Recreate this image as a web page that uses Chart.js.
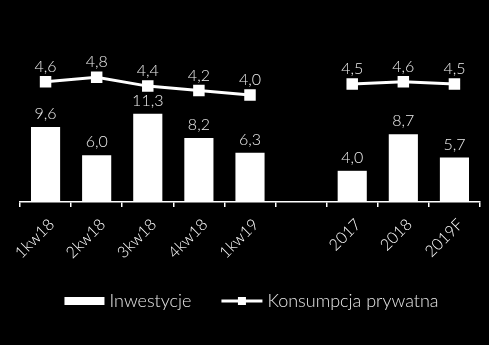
<!DOCTYPE html>
<html>
<head>
<meta charset="utf-8">
<script src="https://cdn.jsdelivr.net/npm/chart.js@4"></script>
<style>
  html, body { margin: 0; padding: 0; background: #000; }
  #wrap { width: 489px; height: 345px; }
</style>
</head>
<body>
<div id="wrap"><canvas id="chart"></canvas></div>
<script>
const categories = ["1kw18", "2kw18", "3kw18", "4kw18", "1kw19", "", "2017", "2018", "2019F"];
const inwestycje = [9.6, 6.0, 11.3, 8.2, 6.3, null, 4.0, 8.7, 5.7];
const konsumpcja = [4.6, 4.8, 4.4, 4.2, 4.0, null, 4.5, 4.6, 4.5];

const FONT = "Lato, 'DejaVu Sans', sans-serif";

function fmt(v) {
  return v.toFixed(1).replace(".", ",");
}

// value labels above bars and points
const valueLabels = {
  id: "valueLabels",
  afterDatasetsDraw(chart) {
    const ctx = chart.ctx;
    ctx.save();
    ctx.font = "300 16px " + FONT;
    ctx.fillStyle = "#ececec";
    ctx.textAlign = "center";
    ctx.textBaseline = "bottom";
    chart.data.datasets.forEach((ds, i) => {
      const meta = chart.getDatasetMeta(i);
      meta.data.forEach((el, j) => {
        const v = ds.data[j];
        if (v == null) return;
        const off = ds.type === "line" ? 7 : 5;
        ctx.fillText(fmt(v), el.x, el.y - off);
      });
    });
    ctx.restore();
  }
};

// legend at the bottom: box for bars, line with square for the line
const bottomLegend = {
  id: "bottomLegend",
  afterDraw(chart) {
    const ctx = chart.ctx;
    ctx.save();
    ctx.font = "300 18px " + FONT;
    const t1 = chart.data.datasets[0].label;
    const t2 = chart.data.datasets[1].label;
    const w1 = ctx.measureText(t1).width;
    const w2 = ctx.measureText(t2).width;
    const total = 40 + 5 + w1 + 30 + 41 + 5 + w2;
    let x = 251.5 - total / 2;
    const y = 301;
    ctx.fillStyle = "#fff";
    ctx.fillRect(x, y - 4, 40, 8);
    x += 45;
    ctx.fillStyle = "#e6e6e6";
    ctx.textBaseline = "middle";
    ctx.fillText(t1, x, y);
    x += w1 + 30;
    ctx.strokeStyle = "#fff";
    ctx.lineWidth = 3;
    ctx.beginPath();
    ctx.moveTo(x, y);
    ctx.lineTo(x + 41, y);
    ctx.stroke();
    ctx.fillStyle = "#fff";
    ctx.fillRect(x + 16.5, y - 4, 8, 8);
    x += 46;
    ctx.fillStyle = "#e6e6e6";
    ctx.fillText(t2, x, y);
    ctx.restore();
  }
};

new Chart(document.getElementById("chart"), {
  data: {
    labels: categories,
    datasets: [
      {
        type: "bar",
        label: "Inwestycje",
        data: inwestycje,
        backgroundColor: "#ffffff",
        yAxisID: "y",
        barPercentage: 0.57,
        categoryPercentage: 1,
        order: 2
      },
      {
        type: "line",
        label: "Konsumpcja prywatna",
        data: konsumpcja,
        borderColor: "#ffffff",
        backgroundColor: "#ffffff",
        borderWidth: 3,
        pointStyle: "rect",
        pointRadius: 6,
        pointHoverRadius: 6,
        yAxisID: "y2",
        order: 1
      }
    ]
  },
  options: {
    responsive: true,
    maintainAspectRatio: false,
    animation: false,
    layout: {
      padding: { top: 46, left: 20, right: 7, bottom: 0 }
    },
    plugins: {
      legend: { display: false },
      tooltip: { enabled: false }
    },
    scales: {
      x: {
        offset: true,
        grid: {
          offset: true,
          drawOnChartArea: false,
          drawTicks: true,
          tickLength: 5,
          color: "#ffffff",
          lineWidth: 1.5
        },
        border: { display: true, color: "#ffffff", width: 1.5 },
        ticks: {
          color: "#ffffff",
          font: { family: FONT, size: 16, weight: "300" },
          minRotation: 45,
          maxRotation: 45,
          autoSkip: false,
          labelOffset: 6,
          padding: 8
        },
        afterFit(scale) {
          scale.height = 143;
          scale.paddingLeft = 0;
          scale.paddingRight = 0;
        }
      },
      y: {
        display: false,
        min: 0,
        max: 20
      },
      y2: {
        display: false,
        min: -0.8,
        max: 6.2
      }
    }
  },
  plugins: [valueLabels, bottomLegend]
});
</script>
</body>
</html>
